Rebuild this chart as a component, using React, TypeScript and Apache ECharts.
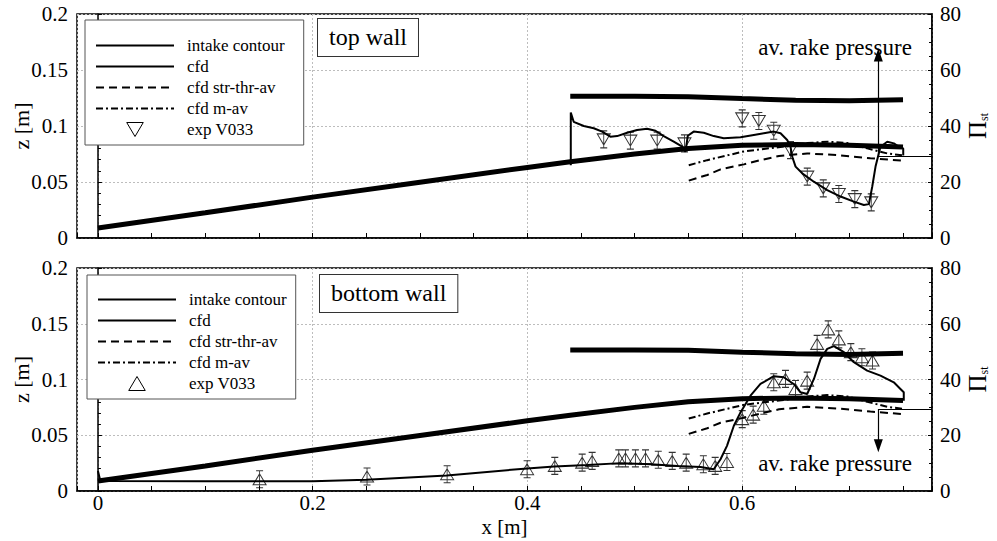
import React, { useEffect, useRef } from 'react';
import * as echarts from 'echarts';

const FONT = 'Liberation Serif';

// axis ranges
const X_MIN = -0.0195;
const X_MAX = 0.777;
const Z_MAX = 0.2;
const Z_STEP = 0.05;
const P_MAX = 80;
const P_STEP = 20;

// intake contour (z [m])
const lowerWallX = [0, 0.1, 0.2, 0.3, 0.4, 0.44, 0.5, 0.55, 0.6, 0.65, 0.7, 0.75];
const lowerWallZ = [0.009, 0.0225, 0.0365, 0.0498, 0.063, 0.068, 0.075, 0.08, 0.0828, 0.0835, 0.0828, 0.0812];
const upperWallX = [0.44, 0.5, 0.55, 0.6, 0.65, 0.7, 0.75];
const upperWallZ = [0.1265, 0.1265, 0.1262, 0.1245, 0.123, 0.1225, 0.1235];

// top wall cfd (Pi_st)
const cfdTopX = [0.4405, 0.4405, 0.4432, 0.4526, 0.4619, 0.4697, 0.4774, 0.4837, 0.493, 0.5023, 0.5116, 0.5194, 0.5271, 0.5364, 0.5443, 0.5473, 0.5495, 0.555, 0.5644, 0.5737, 0.583, 0.5986, 0.611, 0.6203, 0.6296, 0.6359, 0.6421, 0.6452, 0.6468, 0.6499, 0.6561, 0.6669, 0.6794, 0.6918, 0.7042, 0.7135, 0.7182, 0.7213, 0.7244, 0.729, 0.7353, 0.7415, 0.7461, 0.7502, 0.7502];
const cfdTopY = [26.0, 44.8, 41.5, 40.0, 39.2, 38.0, 36.2, 36.4, 37.6, 38.6, 39.0, 38.3, 36.4, 34.4, 32.6, 30.8, 36.5, 38.0, 37.6, 36.4, 35.6, 36.0, 36.8, 37.4, 38.0, 37.4, 35.0, 32.6, 29.0, 25.5, 23.1, 20.1, 17.1, 14.8, 13.0, 11.8, 12.1, 18.3, 25.5, 32.6, 34.4, 33.8, 32.6, 32.0, 29.5];

// bottom wall cfd (Pi_st)
const cfdBottomX = [0, 0.002, 0.01, 0.1, 0.2, 0.25, 0.325, 0.4, 0.425, 0.456, 0.487, 0.515, 0.54, 0.5614, 0.5737, 0.58, 0.586, 0.5924, 0.5986, 0.6079, 0.6172, 0.6296, 0.6389, 0.6482, 0.6545, 0.6607, 0.667, 0.6732, 0.6794, 0.6856, 0.6949, 0.7042, 0.7166, 0.729, 0.7414, 0.7476, 0.7507, 0.7507];
const cfdBottomY = [7.2, 4.0, 3.6, 3.5, 3.5, 4.0, 5.6, 8.1, 8.8, 9.3, 10.0, 9.6, 9.0, 8.6, 7.8, 11.4, 16.2, 23.4, 28.2, 34.2, 38.4, 41.2, 40.8, 38.4, 35.4, 34.8, 40.2, 47.4, 51.0, 52.0, 49.8, 46.2, 43.2, 41.4, 39.0, 36.6, 35.4, 32.4];

// stream-thrust average and mass average (same in both panels)
const strX = [0.5504, 0.5676, 0.58, 0.6017, 0.6172, 0.6345, 0.6607, 0.6887, 0.7196, 0.75];
const strY = [20.5, 22.5, 24.5, 26.3, 27.8, 29.3, 30.2, 29.6, 28.5, 27.6];
const mavX = [0.5504, 0.5676, 0.5862, 0.6017, 0.6203, 0.642, 0.6608, 0.6794, 0.698, 0.7167, 0.7353, 0.75];
const mavY = [26.0, 27.8, 29.5, 30.9, 31.8, 32.8, 33.9, 34.4, 33.9, 32.0, 30.2, 29.5];

// experiment V033
const expTopX = [0.4712, 0.496, 0.521, 0.5464, 0.6002, 0.6157, 0.6296, 0.6452, 0.6608, 0.6757, 0.6902, 0.7051, 0.7204];
const expTopY = [35.2, 34.8, 34.8, 33.8, 42.7, 41.8, 38.3, 31.4, 21.9, 17.7, 15.7, 13.9, 12.7];
const expBottomX = [0.1506, 0.2507, 0.3253, 0.3998, 0.4256, 0.4511, 0.4604, 0.4852, 0.4914, 0.5007, 0.5101, 0.522, 0.535, 0.548, 0.564, 0.575, 0.586, 0.6002, 0.6104, 0.6203, 0.6296, 0.6405, 0.6498, 0.6607, 0.67, 0.6803, 0.6902, 0.7014, 0.7117, 0.7216];
const expBottomY = [4.2, 5.2, 6.0, 7.8, 9.0, 10.2, 10.8, 11.7, 11.7, 11.7, 11.7, 11.2, 10.8, 10.2, 9.6, 9.0, 10.4, 25.8, 27.4, 30.6, 39.0, 40.2, 36.6, 39.6, 52.8, 58.0, 54.4, 49.8, 48.0, 46.8];

// averaged rake pressure
const avRakeTop = 29.3;
const avRakeTopTip = 65.4;
const avRakeBottom = 29.4;
const avRakeBottomTip = 16.2;
const avRakeX = 0.727;

const legendNames = ['intake contour', 'cfd', 'cfd str-thr-av', 'cfd m-av', 'exp V033'];
const panelTitles = ['top wall', 'bottom wall'];
const avRakeLabel = 'av. rake pressure';

const pairs = (xs: number[], ys: number[]) => xs.map((x, i) => [x, ys[i]]);

const triDown = 'path://M0,3L13,3L6.5,14Z M6.5,0L6.5,17 M3,0L10,0 M3,17L10,17';
const triUp = 'path://M6.5,3L13,14L0,14Z M6.5,0L6.5,17 M3,0L10,0 M3,17L10,17';
const triDownIcon = 'path://M0,0L13,0L6.5,11Z';
const triUpIcon = 'path://M6.5,0L13,11L0,11Z';

const GRIDS = [
  { left: 77, top: 14, width: 855, height: 224 },
  { left: 77, top: 268, width: 855, height: 223 },
];

function buildOption() {
  const black = '#000';
  const tickStyle = { color: black, width: 1 };
  const labelStyle = { fontFamily: FONT, fontSize: 21, color: black };
  const split = { show: true, lineStyle: { color: '#bdbdbd', type: [2, 2] as any, width: 1 } };

  const xAxis = [0, 1].map((p) => ({
    type: 'value',
    gridIndex: p,
    min: X_MIN,
    max: X_MAX,
    splitNumber: 4,
    axisLine: { show: true, onZero: false, lineStyle: { color: black, width: 1.5 } },
    axisTick: { show: true, inside: true, length: 5, lineStyle: tickStyle },
    minorTick: { show: true, splitNumber: 4, length: 5, lineStyle: tickStyle },
    splitLine: split,
    axisLabel: {
      show: p === 1,
      ...labelStyle,
      margin: 1,
      showMinLabel: false,
      showMaxLabel: false,
      formatter: (v: number) => String(+v.toFixed(2)),
    },
    name: p === 1 ? 'x [m]' : '',
    nameLocation: 'middle',
    nameGap: 25,
    nameMoveOverlap: false,
    nameTextStyle: { fontFamily: FONT, fontSize: 21, color: black, lineHeight: 22 },
  }));

  const yAxis: any[] = [];
  [0, 1].forEach((p) => {
    yAxis.push({
      type: 'value',
      gridIndex: p,
      position: 'left',
      min: 0,
      max: Z_MAX,
      interval: Z_STEP,
      axisLine: { show: true, lineStyle: { color: black, width: 1.5 } },
      axisTick: { show: true, inside: true, length: 4, lineStyle: tickStyle },
      minorTick: { show: true, splitNumber: 5, length: 3, lineStyle: tickStyle },
      splitLine: split,
      axisLabel: { ...labelStyle, margin: 9 },
      name: 'z [m]',
      nameLocation: 'middle',
      nameRotate: 90,
      nameGap: 45,
      nameMoveOverlap: false,
      nameTextStyle: { fontFamily: FONT, fontSize: 22, color: black },
    });
    yAxis.push({
      type: 'value',
      gridIndex: p,
      position: 'right',
      min: 0,
      max: P_MAX,
      interval: P_STEP,
      axisLine: { show: true, lineStyle: { color: black, width: 1.5 } },
      axisTick: { show: true, inside: true, length: 4, lineStyle: tickStyle },
      minorTick: { show: true, splitNumber: 4, length: 3, lineStyle: tickStyle },
      splitLine: { show: false },
      axisLabel: { ...labelStyle, margin: 8 },
    });
  });

  const series: any[] = [];
  [0, 1].forEach((p) => {
    const zAx = 2 * p;
    const pAx = 2 * p + 1;
    const base = { type: 'line', xAxisIndex: p, symbol: 'none', showSymbol: false, silent: true, smooth: false };
    series.push({ ...base, name: 'intake contour', yAxisIndex: zAx, data: pairs(lowerWallX, lowerWallZ), lineStyle: { color: black, width: 5 }, itemStyle: { color: black } });
    series.push({ ...base, name: 'intake contour', yAxisIndex: zAx, data: pairs(upperWallX, upperWallZ), lineStyle: { color: black, width: 5 }, itemStyle: { color: black } });
    const av = p === 0 ? avRakeTop : avRakeBottom;
    const tip = p === 0 ? avRakeTopTip : avRakeBottomTip;
    series.push({
      ...base,
      name: 'cfd',
      yAxisIndex: pAx,
      z: 3,
      data: p === 0 ? pairs(cfdTopX, cfdTopY) : pairs(cfdBottomX, cfdBottomY),
      lineStyle: { color: black, width: 2 },
      itemStyle: { color: black },
      markLine: {
        silent: true,
        animation: false,
        symbol: ['none', 'none'],
        symbolSize: 11,
        label: { show: false },
        emphasis: { disabled: true },
        lineStyle: { color: black, width: 1.2, type: 'solid' },
        data: [
          [
            { coord: [avRakeX, av], symbol: 'none' },
            { coord: [avRakeX, tip], symbol: 'triangle', symbolSize: [9, 13] },
          ],
          [
            { coord: [avRakeX, av], symbol: 'none' },
            { coord: [X_MAX, av], symbol: 'none' },
          ],
        ],
      },
    });
    series.push({ ...base, name: 'cfd str-thr-av', yAxisIndex: pAx, data: pairs(strX, strY), lineStyle: { color: black, width: 2, type: [8, 5] }, itemStyle: { color: black } });
    series.push({ ...base, name: 'cfd m-av', yAxisIndex: pAx, data: pairs(mavX, mavY), lineStyle: { color: black, width: 2, type: [7, 3, 2, 3] }, itemStyle: { color: black } });
    series.push({
      type: 'scatter',
      name: 'exp V033',
      xAxisIndex: p,
      yAxisIndex: pAx,
      silent: true,
      z: 4,
      symbol: p === 0 ? triDown : triUp,
      symbolSize: [13, 17],
      data: p === 0 ? pairs(expTopX, expTopY) : pairs(expBottomX, expBottomY),
      itemStyle: { color: 'rgba(0,0,0,0)', borderColor: black, borderWidth: 1 },
    });
  });

  const legend = [0, 1].map((p) => ({
    orient: 'vertical',
    left: p === 0 ? 85 : 87,
    top: p === 0 ? 20 : 275,
    padding: p === 0 ? [17, 19, 7, 10] : [16, 9, 7, 10],
    itemWidth: 78,
    itemHeight: 14,
    itemGap: 4,
    selectedMode: false,
    backgroundColor: '#fff',
    borderColor: '#555',
    borderWidth: 1,
    itemStyle: { opacity: 0 },
    textStyle: { fontFamily: FONT, fontSize: 17, color: black, padding: [0, 0, 0, 8] },
    data: legendNames.map((n) =>
      n === 'exp V033'
        ? { name: n, icon: p === 0 ? triDownIcon : triUpIcon, itemStyle: { color: 'rgba(0,0,0,0)', borderColor: black, borderWidth: 1, opacity: 1 } }
        : { name: n }
    ),
  }));

  const titleBox = (text: string, x: number, y: number) => ({
    type: 'text',
    x,
    y,
    z: 100,
    style: {
      text,
      fontFamily: FONT,
      fontSize: 24,
      fill: black,
      backgroundColor: '#fff',
      borderColor: '#333',
      borderWidth: 1,
      padding: [5, 11, 6, 11],
      lineHeight: 26,
    },
  });

  const graphic: any[] = [
    titleBox(panelTitles[0], 318, 19),
    titleBox(panelTitles[1], 320, 275),
    {
      type: 'text',
      x: 835,
      y: 47,
      z: 100,
      style: { text: avRakeLabel, fontFamily: FONT, fontSize: 23, fill: black, align: 'center', verticalAlign: 'middle' },
    },
    {
      type: 'text',
      x: 835,
      y: 463,
      z: 100,
      style: { text: avRakeLabel, fontFamily: FONT, fontSize: 23, fill: black, align: 'center', verticalAlign: 'middle' },
    },
    ...GRIDS.map((g) => ({
      type: 'text',
      x: 977,
      y: g.top + g.height / 2,
      rotation: Math.PI / 2,
      z: 100,
      style: {
        text: '{p|Π}{s|st}',
        align: 'center',
        verticalAlign: 'middle',
        rich: {
          p: { fontFamily: FONT, fontSize: 25, fill: black, lineHeight: 26 },
          s: { fontFamily: FONT, fontSize: 12, fill: black, verticalAlign: 'bottom', lineHeight: 12 },
        },
      },
    })),
  ];

  return {
    animation: false,
    backgroundColor: '#fff',
    grid: GRIDS.map((g) => ({
      ...g,
      show: true,
      containLabel: false,
      outerBoundsMode: 'none',
      borderColor: black,
      borderWidth: 1.5,
      backgroundColor: 'transparent',
    })),
    xAxis,
    yAxis,
    legend,
    series,
    graphic,
  };
}

export default function App() {
  const ref = useRef<HTMLDivElement>(null);
  useEffect(() => {
    if (!ref.current) return;
    const chart = echarts.init(ref.current, undefined, { renderer: 'svg' });
    chart.setOption(buildOption() as any);
    return () => chart.dispose();
  }, []);
  return <div ref={ref} style={{ position: 'fixed', left: 0, top: 0, width: 997, height: 541, background: '#fff' }} />;
}
